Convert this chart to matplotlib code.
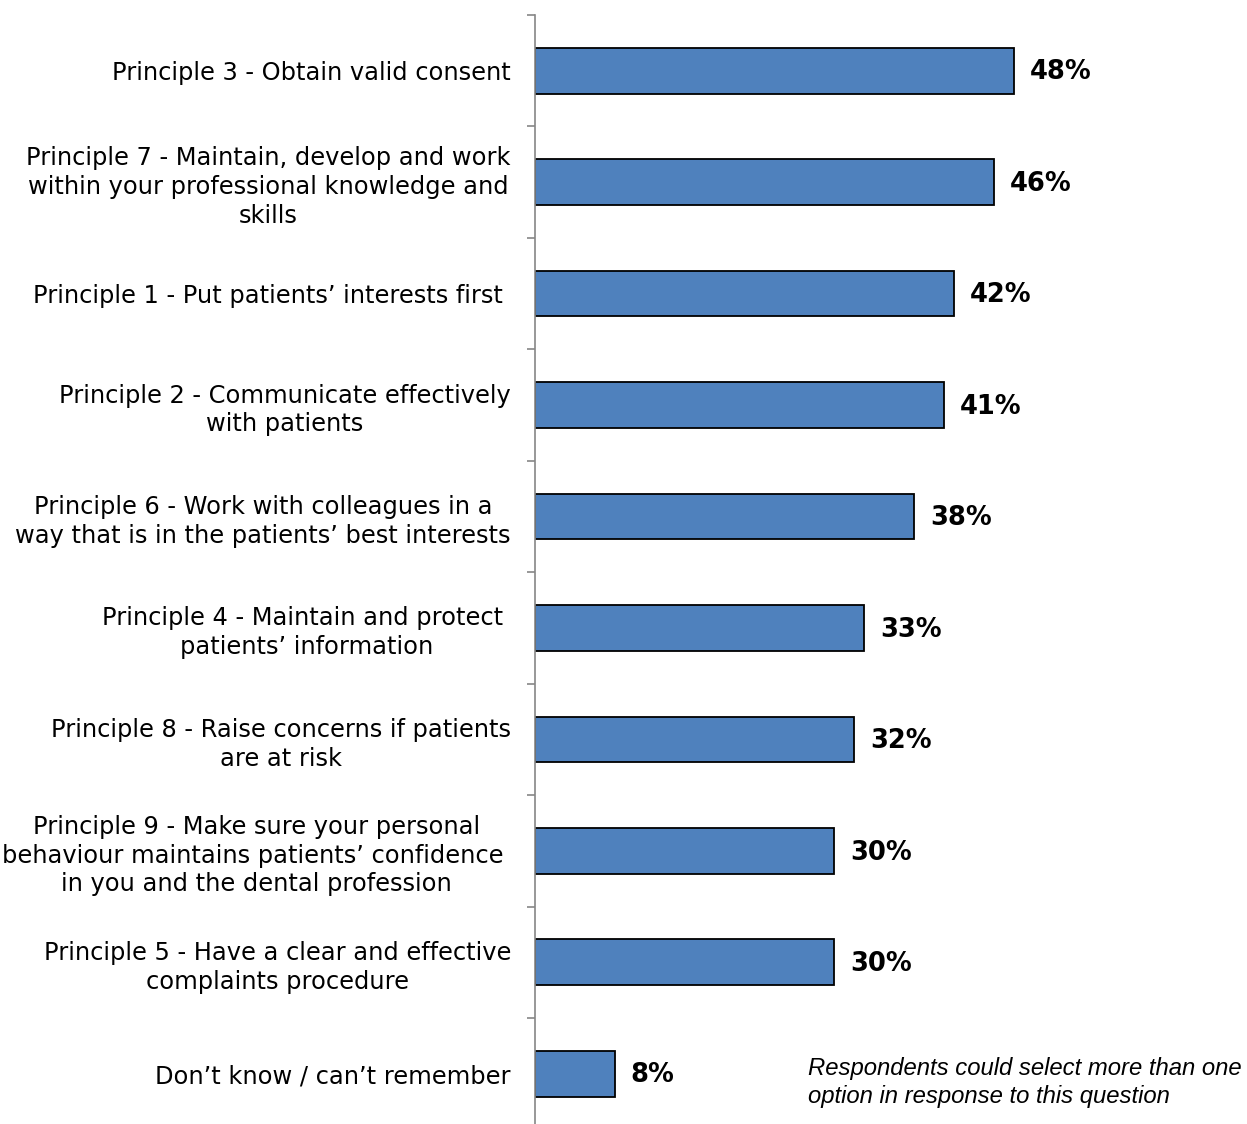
import matplotlib.pyplot as plt

# survey results, listed top to bottom
labels = [
  'Principle 3 - Obtain valid consent',
  'Principle 7 - Maintain, develop and work\nwithin your professional knowledge and\nskills',
  'Principle 1 - Put patients\u2019 interests first ',
  'Principle 2 - Communicate effectively\nwith patients',
  'Principle 6 - Work with colleagues in a\nway that is in the patients\u2019 best interests',
  'Principle 4 - Maintain and protect \npatients\u2019 information',
  'Principle 8 - Raise concerns if patients\nare at risk',
  'Principle 9 - Make sure your personal\nbehaviour maintains patients\u2019 confidence \nin you and the dental profession',
  'Principle 5 - Have a clear and effective\ncomplaints procedure',
  'Don\u2019t know / can\u2019t remember',
]
values = [48, 46, 42, 41, 38, 33, 32, 30, 30, 8]

note = 'Respondents could select more than one\noption in response to this question'

fig = plt.figure(figsize=(12.47, 11.24), dpi=100)
ax = fig.add_axes([0.429, -0.0049, 0.56, 0.9916])

pos = range(len(values))
ax.barh(pos, values, height=0.41, color='#4F81BD', edgecolor='black', linewidth=1.3)
ax.set_ylim(len(values) - 0.5, -0.5)
ax.set_xlim(0, 70)

for y, v in zip(pos, values):
  ax.text(v + 1.6, y + 0.015, f'{v}%', va='center', ha='left',
          fontsize=18.5, fontweight='bold', color='black')

# category ticks sit between the bars
ax.set_yticks([i - 0.5 for i in range(len(values) + 1)])
ax.set_yticklabels([])
ax.set_yticks(list(pos), minor=True)
ax.set_yticklabels(labels, minor=True, fontsize=17.4)
for t in ax.get_yticklabels(minor=True):
  t.set_multialignment('center')
  t.set_linespacing(1.25)
ax.tick_params(axis='y', which='major', length=6, color='#868686', width=1.2, direction='out')
ax.tick_params(axis='y', which='minor', length=0, pad=17.3)

ax.set_xticks([])
for side in ['top', 'right', 'bottom']:
  ax.spines[side].set_visible(False)
ax.spines['left'].set_color('#868686')
ax.spines['left'].set_linewidth(1.2)

fig.text(808 / 1247, 0.0369, note, fontsize=17.2, style='italic',
         family='Liberation Sans', va='center', ha='left', linespacing=1.3)

plt.savefig('out.png', dpi=100)
